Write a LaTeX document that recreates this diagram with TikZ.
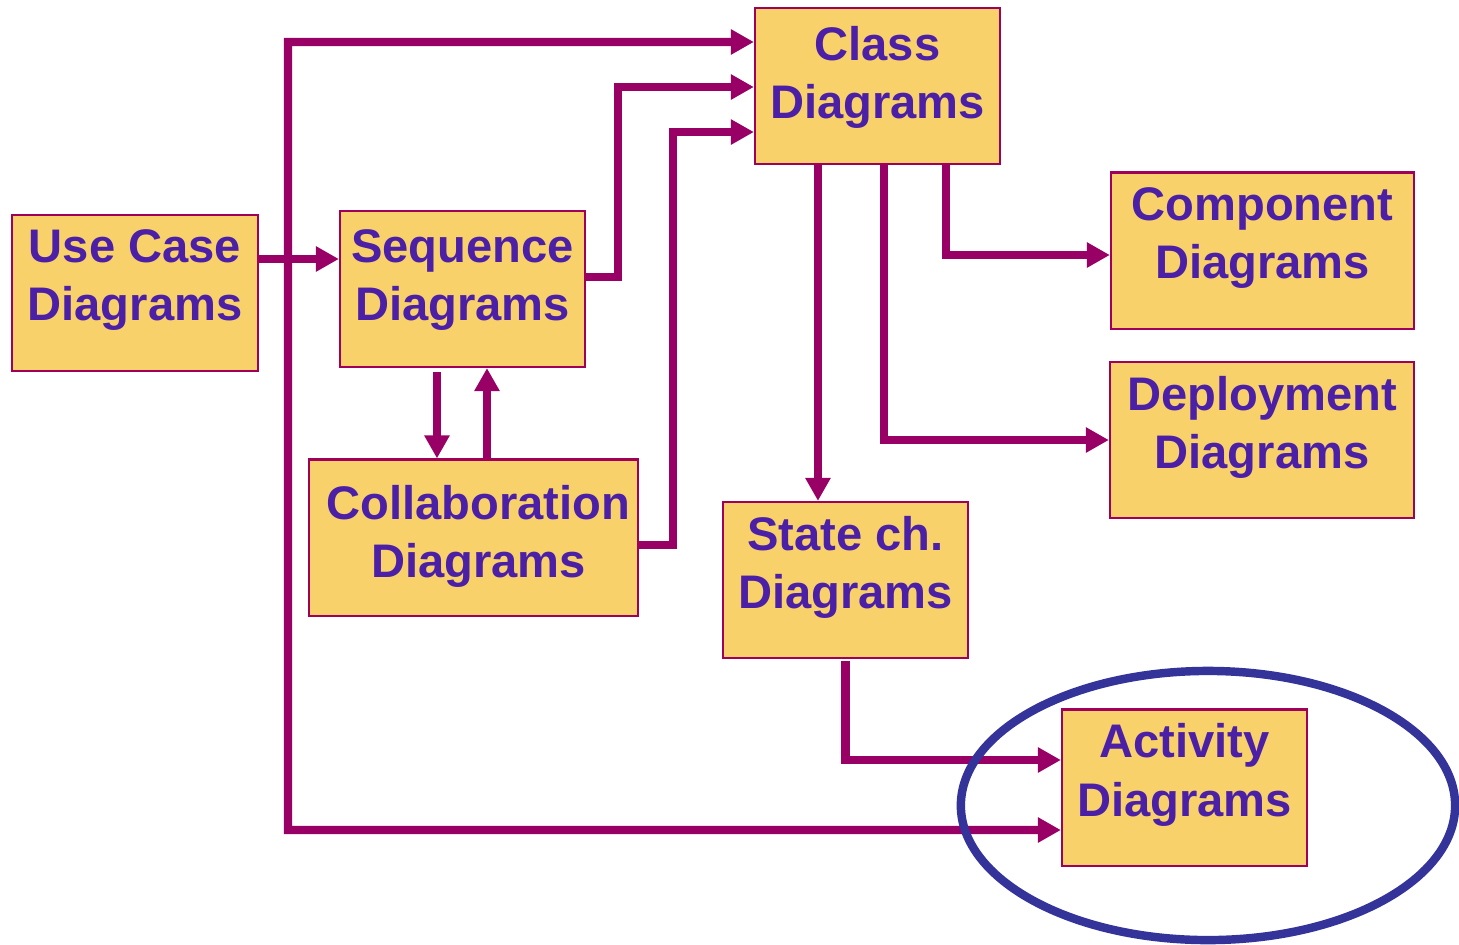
\documentclass[tikz,border=0pt]{standalone}
\usepackage{fontspec}
\setmainfont{Liberation Sans}
\usetikzlibrary{arrows.meta}

\definecolor{flowred}{RGB}{153,0,102}
\definecolor{boxfill}{RGB}{248,209,107}
\definecolor{boxline}{RGB}{160,0,90}
\definecolor{boxtext}{RGB}{76,32,166}
\definecolor{ringblue}{RGB}{51,51,153}

\tikzset{
  diag/.style={draw=boxline,line width=0.6pt,fill=boxfill,text=boxtext,
    minimum width=2.45cm,minimum height=1.56cm,inner sep=0pt,align=center,
    font=\fontsize{13.4}{16.5}\selectfont\bfseries,text depth=10pt},
  flow/.style={flowred,line width=2.3pt,-{Triangle[length=0.23cm,width=0.24cm]}},
  both/.style={flowred,line width=2.3pt,{Triangle[length=0.23cm,width=0.24cm]}-{Triangle[length=0.23cm,width=0.24cm]}}
}

\begin{document}
\begin{tikzpicture}[x=0.01cm,y=-0.01cm]
  \useasboundingbox (0,0) rectangle (1459,944);

  \node[diag] (uc) at (135,293) {Use Case\\Diagrams};
  \node[diag,text depth=7.7pt] (seq) at (462.5,289) {Sequence\\Diagrams};
  \node[diag,minimum width=3.29cm,text depth=3.2pt] (col) at (473.5,537.5) {\hspace*{0.1cm}Collaboration\\\hspace*{0.1cm}Diagrams};
  \node[diag,text depth=7.7pt] (cls) at (877.5,86) {Class\\Diagrams};
  \node[diag,minimum width=3.03cm] (comp) at (1262.5,250.5) {Component\\Diagrams};
  \node[diag,minimum width=3.04cm] (dep) at (1262,440) {Deployment\\Diagrams};
  \node[diag] (st) at (845.5,580) {State ch.\\Diagrams};
  \node[diag] (act) at (1184.5,787.5) {Activity\\Diagrams};

  \coordinate (trunk) at (288,0);

  % use case -> class / activity
  \draw[both] ([yshift=0.44cm]cls.west) -| (trunk |- 0,830) -- ([yshift=-0.425cm]act.west);
  \draw[flow] ([yshift=0.34cm]uc.east) coordinate (u1) -- (u1 -| seq.west);

  % sequence / collaboration
  \draw[flow] ([yshift=0.12cm]seq.east) -- ++(32,0) |- ([yshift=-0.01cm]cls.west);
  \draw[flow] ([yshift=-0.075cm]col.east) -- ++(34,0) |- ([yshift=-0.46cm]cls.west);
  \draw[flow] ([xshift=-0.255cm,yshift=-0.04cm]seq.south) coordinate (s1) -- (s1 |- col.north);
  \draw[flow] ([xshift=0.135cm]col.north) coordinate (c1) -- (c1 |- seq.south);

  % class -> others
  \draw[flow] ([xshift=-0.595cm]cls.south) coordinate (k1) -- (k1 |- st.north);
  \draw[flow] ([xshift=0.065cm]cls.south) |- (dep.west);
  \draw[flow] ([xshift=0.685cm]cls.south) |- ([yshift=-0.045cm]comp.west);
  \draw[flow] ([yshift=-0.02cm]st.south) |- ([yshift=0.275cm]act.west);

  \draw[ringblue,line width=2.4pt] (1208,805.5) ellipse [x radius=2.47cm,y radius=1.345cm];
\end{tikzpicture}
\end{document}
